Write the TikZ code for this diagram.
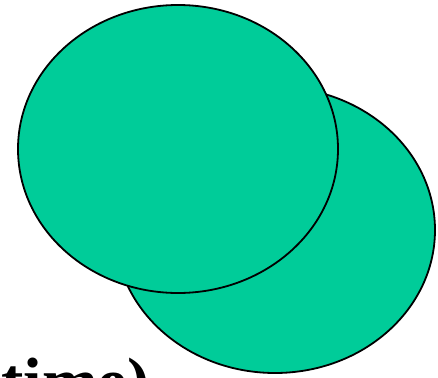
\documentclass[tikz,border=0pt]{standalone}
\usepackage{fontspec}
\setmainfont{Liberation Serif}
\usetikzlibrary{shapes.geometric}
\definecolor{ovalgreen}{HTML}{00CC99}

\begin{document}
\begin{tikzpicture}[
    x=1pt, y=-1pt,
    oval/.style={
        ellipse,
        draw=black,
        line width=1.8pt,
        fill=ovalgreen,
        inner sep=0pt
    },
    caption/.style={
        font=\fontsize{67}{80}\selectfont\bfseries,
        anchor=base west,
        inner sep=0pt
    }
]
\useasboundingbox (0,0) rectangle (438,377);
\clip (0,0) rectangle (438,377);

\node[oval, minimum width=320pt, minimum height=286pt] (backoval) at (275,230) {};
\node[oval, minimum width=320pt, minimum height=288pt] (frontoval) at (178,149) {};

\node[caption] (timelabel) at (1,404) {time)};

\end{tikzpicture}
\end{document}
